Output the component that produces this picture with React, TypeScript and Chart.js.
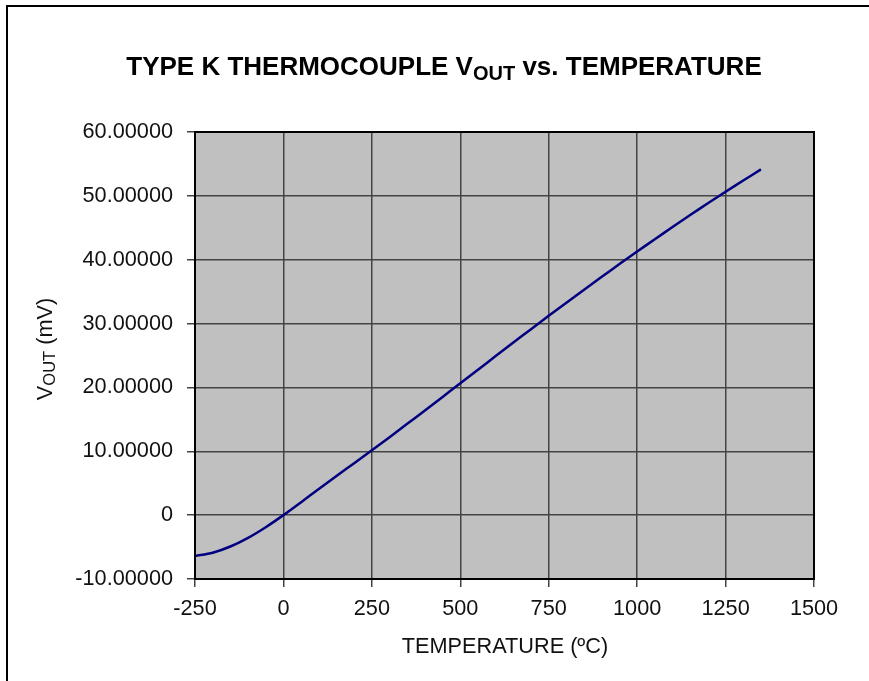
import React, { useEffect, useRef } from 'react';
import { Chart, registerables } from 'chart.js';

Chart.register(...registerables);

// Temperature (°C)
const temperatures = [
  -250, -200, -150, -100, -50, 0, 50, 100, 150, 200, 250, 300, 350, 400, 450, 500,
  550, 600, 650, 700, 750, 800, 850, 900, 950, 1000, 1050, 1100, 1150, 1200, 1250, 1300, 1350,
];
// Type K thermocouple output (mV)
const voltages = [
  -6.404, -5.891, -4.913, -3.554, -1.889, 0.0, 2.023, 4.096, 6.138, 8.138, 10.153, 12.209, 14.293,
  16.397, 18.516, 20.644, 22.776, 24.905, 27.025, 29.129, 31.213, 33.275, 35.313, 37.326, 39.314,
  41.276, 43.211, 45.119, 46.995, 48.838, 50.644, 52.41, 54.138,
];

const xMin = -250;
const xMax = 1500;
const xStep = 250;
const yMin = -10;
const yMax = 60;
const yStep = 10;

const titleMain = 'TYPE K THERMOCOUPLE V';
const titleSub = 'OUT';
const titleRest = ' vs. TEMPERATURE';
const yLabelMain = 'V';
const yLabelSub = 'OUT';
const yLabelRest = ' (mV)';
const xLabel = 'TEMPERATURE (ºC)';

const FONT = 'Arial, "Liberation Sans", sans-serif';

type Part = { text: string; font: string; dy: number };

function drawRich(ctx: CanvasRenderingContext2D, parts: Part[], cx: number, baseline: number) {
  let total = 0;
  for (const p of parts) {
    ctx.font = p.font;
    total += ctx.measureText(p.text).width;
  }
  let x = cx - total / 2;
  ctx.textAlign = 'left';
  ctx.textBaseline = 'alphabetic';
  for (const p of parts) {
    ctx.font = p.font;
    ctx.fillText(p.text, x, baseline + p.dy);
    x += ctx.measureText(p.text).width;
  }
}

const decorPlugin = {
  id: 'decor',
  beforeDraw(chart: any) {
    const { ctx, chartArea: a } = chart;
    ctx.save();
    ctx.fillStyle = '#ffffff';
    ctx.fillRect(0, 0, chart.width, chart.height);
    ctx.fillStyle = '#C0C0C0';
    ctx.fillRect(a.left, a.top, a.right - a.left, a.bottom - a.top);
    ctx.restore();
  },
  afterDraw(chart: any) {
    const { ctx, chartArea: a } = chart;
    ctx.save();
    // outer frame
    ctx.strokeStyle = '#000';
    ctx.lineWidth = 2;
    ctx.strokeRect(7, 6, 1000, 1000);
    // plot area frame
    ctx.lineWidth = 2;
    ctx.strokeRect(a.left, a.top, a.right - a.left, a.bottom - a.top);
    ctx.fillStyle = '#000';
    // title
    drawRich(
      ctx,
      [
        { text: titleMain, font: `bold 26px ${FONT}`, dy: 0 },
        { text: titleSub, font: `bold 20px ${FONT}`, dy: 5 },
        { text: titleRest, font: `bold 26px ${FONT}`, dy: 0 },
      ],
      444,
      75
    );
    // x axis title
    ctx.fillStyle = '#111';
    drawRich(ctx, [{ text: xLabel, font: `21.7px ${FONT}`, dy: 0 }], 505, 653);
    // y axis title
    ctx.translate(52, 349);
    ctx.rotate(-Math.PI / 2);
    drawRich(
      ctx,
      [
        { text: yLabelMain, font: `21.7px ${FONT}`, dy: 0 },
        { text: yLabelSub, font: `16.5px ${FONT}`, dy: 3 },
        { text: yLabelRest, font: `21.7px ${FONT}`, dy: 0 },
      ],
      0,
      0
    );
    ctx.restore();
  },
};

export default function App() {
  const canvasRef = useRef<HTMLCanvasElement | null>(null);

  useEffect(() => {
    if (!canvasRef.current) return;
    const chart = new Chart(canvasRef.current, {
      type: 'line',
      data: {
        datasets: [
          {
            data: temperatures.map((t, i) => ({ x: t, y: voltages[i] })),
            borderColor: '#000080',
            borderWidth: 2.5,
            pointRadius: 0,
            tension: 0.3,
            fill: false,
          },
        ],
      },
      options: {
        animation: false,
        responsive: false,
        maintainAspectRatio: false,
        layout: { padding: { top: 132, right: 55, left: 0, bottom: 0 } },
        plugins: {
          legend: { display: false },
          title: { display: false },
          tooltip: { enabled: false },
        },
        scales: {
          x: {
            type: 'linear',
            min: xMin,
            max: xMax,
            afterFit: (s: any) => {
              s.height = 102;
            },
            ticks: {
              stepSize: xStep,
              color: '#111',
              font: { family: FONT, size: 21.7 },
              padding: 9,
              maxRotation: 0,
              callback: (v: any) => String(v),
            },
            grid: { color: '#444', lineWidth: 1.5, tickLength: 8 },
            border: { color: '#000', width: 2 },
          },
          y: {
            type: 'linear',
            min: yMin,
            max: yMax,
            afterFit: (s: any) => {
              s.width = 195;
            },
            ticks: {
              stepSize: yStep,
              color: '#111',
              font: { family: FONT, size: 21.7 },
              padding: 14,
              callback: (v: any) => (Number(v) === 0 ? '0' : Number(v).toFixed(5)),
            },
            grid: { color: '#444', lineWidth: 1.5, tickLength: 8 },
            border: { color: '#000', width: 2 },
          },
        },
      },
      plugins: [decorPlugin],
    });
    return () => chart.destroy();
  }, []);

  return (
    <div style={{ position: 'fixed', left: 0, top: 0, width: 869, height: 681, background: '#fff' }}>
      <canvas ref={canvasRef} width={869} height={681} style={{ display: 'block', width: 869, height: 681 }} />
    </div>
  );
}
